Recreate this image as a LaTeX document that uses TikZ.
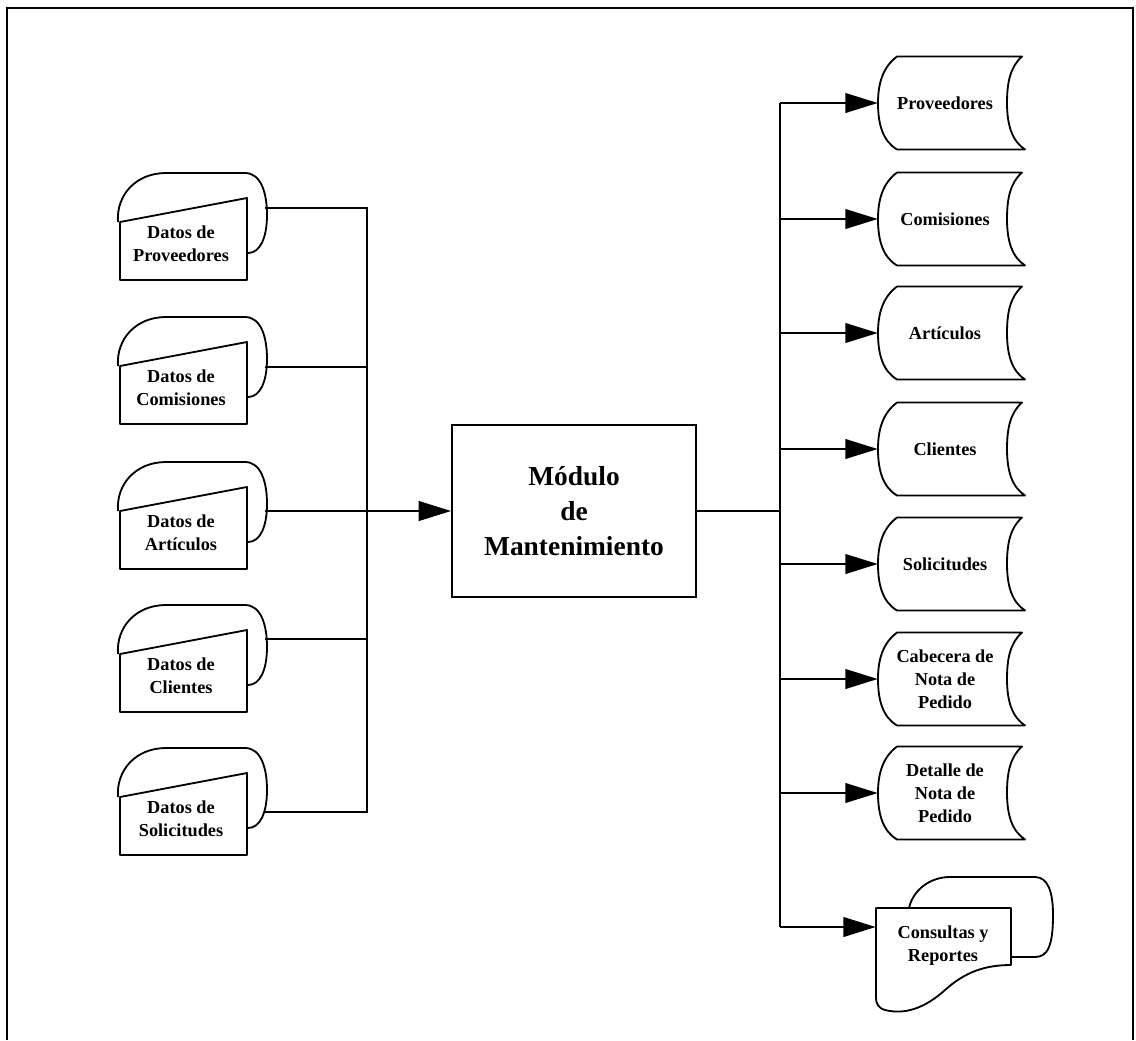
\documentclass[tikz,border=0pt]{standalone}
\usepackage{fontspec}
\setmainfont{Liberation Serif}
\usetikzlibrary{arrows.meta}

% card shape on the left: name, top, connector y, text
\newcommand{\indoc}[4]{%
  \draw[shp] (118,{#2+49}) .. controls (116,{#2+22}) and (136,#2) .. (166,#2) -- (245,#2) .. controls (261,#2) and (267,{#2+20}) .. (267,{#2+42}) .. controls (267,{#2+65}) and (260,{#2+80}) .. (248,{#2+80});
  \draw[shp,fill=white] (120,{#2+49}) -- (247,{#2+25}) -- (247,{#2+107}) -- (120,{#2+107}) -- cycle;
  \node[lbl] (#1) at (181,{#2+71}) {#4};
  \coordinate (#1-o) at (265,#3);
}
% stored data shape on the right: name, middle, text
\newcommand{\stor}[3]{%
  \node[lbl, minimum width=3.35cm, minimum height=2.3cm] (#1) at (945,#2) {#3};
  \draw[shp] (897,{#2-46.5}) -- (1022,{#2-46.5}) .. controls (1010,{#2-36}) and (1007,{#2-20}) .. (1007,#2) .. controls (1007,{#2+22}) and (1012,{#2+38}) .. (1025,{#2+46.5}) -- (897,{#2+46.5}) .. controls (883,{#2+38}) and (878,{#2+22}) .. (878,#2) .. controls (878,{#2-20}) and (883,{#2-36}) .. cycle;
}

\begin{document}
\begin{tikzpicture}[x=0.025cm, y=-0.025cm,
    shp/.style={line width=1.3pt, line join=round},
    wire/.style={line width=1.3pt},
    arr/.style={wire, -{Triangle[length=23pt,width=14pt]}},
    lbl/.style={align=center, font=\fontsize{13}{16.4}\selectfont\bfseries}]
  \useasboundingbox (0,0) rectangle (1136,1040);
  \draw[line width=1pt] (7,1040) -- (7,8) -- (1133,8) -- (1133,1040);

  \indoc{dprov}{173}{208}{Datos de\\Proveedores}
  \indoc{dcom}{317}{367}{Datos de\\Comisiones}
  \indoc{dart}{462}{511}{Datos de\\Artículos}
  \indoc{dcli}{605}{639}{Datos de\\Clientes}
  \indoc{dsol}{748}{812}{Datos de\\Solicitudes}

  \node[draw, line width=1.3pt, minimum width=6.1cm, minimum height=4.3cm, align=center,
    font=\fontsize{19.5}{25}\selectfont\bfseries] (mod) at (574,511) {Módulo\\de\\Mantenimiento};

  \stor{prov}{103}{Proveedores}
  \stor{com}{219}{Comisiones}
  \stor{art}{333}{Artículos}
  \stor{cli}{449}{Clientes}
  \stor{sol}{564}{Solicitudes}
  \stor{cab}{679}{Cabecera de\\Nota de\\Pedido}
  \stor{det}{793}{Detalle de\\Nota de\\Pedido}

  \draw[shp] (909,908) .. controls (913,890) and (930,877) .. (950,877) -- (1035,877) .. controls (1048,877) and (1053,892) .. (1053,915) .. controls (1053,945) and (1048,957) .. (1035,957) -- (1011,957);
  \draw[shp,fill=white] (876,908) -- (1011,908) -- (1011,965) .. controls (985,965) and (965,972) .. (945,990) .. controls (925,1008) and (905,1015) .. (885,1010) .. controls (878,1008) and (876,1003) .. (876,998) -- cycle;
  \node[lbl, minimum width=3.35cm] (cons) at (943,946) {Consultas y\\Reportes};
  \coordinate (cons-in) at ([yshift=0.475cm]cons.west);

  \coordinate (lb) at (367,511);
  \coordinate (rb) at (780,511);
  \draw[wire] (dprov-o) -- (dprov-o -| lb) -- (dsol-o -| lb) -- (dsol-o);
  \draw[wire] (dcom-o) -- (dcom-o -| lb);
  \draw[wire] (dcli-o) -- (dcli-o -| lb);
  \draw[arr] (dart-o) -- (mod.west);
  \draw[wire] (mod.east) -- (rb);
  \draw[wire] (prov.west -| rb) -- (cons-in -| rb);
  \draw[arr] (prov.west -| rb) -- (prov.west);
  \draw[arr] (com.west -| rb) -- (com.west);
  \draw[arr] (art.west -| rb) -- (art.west);
  \draw[arr] (cli.west -| rb) -- (cli.west);
  \draw[arr] (sol.west -| rb) -- (sol.west);
  \draw[arr] (cab.west -| rb) -- (cab.west);
  \draw[arr] (det.west -| rb) -- (det.west);
  \draw[arr] (cons-in -| rb) -- (cons-in);
\end{tikzpicture}
\end{document}
